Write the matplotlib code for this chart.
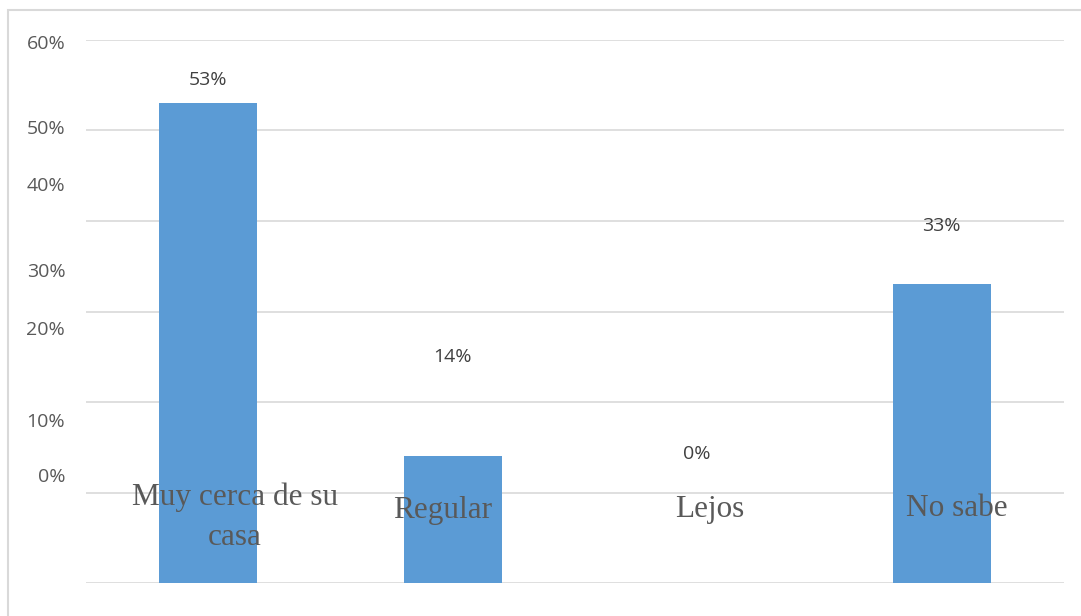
import matplotlib.pyplot as plt
from matplotlib.patches import Rectangle

categories = ["Muy cerca de su\ncasa", "Regular", "Lejos", "No sabe"]
values = [53, 14, 0, 33]
value_labels = ["53%", "14%", "0%", "33%"]
tick_labels = ["60%", "50%", "40%", "30%", "20%", "10%", "0%"]

# where the original chart happened to place its (misaligned) labels, in data units
tick_label_y = [59.6, 50.2, 43.9, 34.4, 28.0, 17.8, 11.7]
value_label_y = [55.6, 25.0, 14.2, 39.4]
cat_label_y = [7.3, 8.0, 8.1, 8.2]
cat_label_dx = [0.11, -0.04, 0.05, 0.06]

fig = plt.figure(figsize=(10.81, 6.16), dpi=100)
ax = fig.add_axes([86 / 1081, 1 - 583 / 616, (1064 - 86) / 1081, (583 - 40) / 616])

x = list(range(len(categories)))
ax.bar(x, values, width=0.4, color="#5b9bd5", zorder=2)

ax.set_xlim(-0.5, 3.5)
ax.set_ylim(0, 60)
ax.set_yticks(range(0, 61, 10))
ax.grid(axis="y", color="#d9d9d9", lw=1.2, zorder=0)
ax.tick_params(left=False, bottom=False, labelleft=False, labelbottom=False)
for s in ax.spines.values():
    s.set_visible(False)

for lbl, yy in zip(tick_labels, tick_label_y):
    ax.text(-0.585, yy, lbl, ha="right", va="center", fontsize=14,
            color="#595959", family="Open Sans")

for i, (lbl, yy) in enumerate(zip(value_labels, value_label_y)):
    ax.text(i, yy, lbl, ha="center", va="center", fontsize=14,
            color="#404040", family="Open Sans")

for i, (lbl, yy) in enumerate(zip(categories, cat_label_y)):
    ax.text(i + cat_label_dx[i], yy, lbl, ha="center", va="center", fontsize=22.5,
            color="#595959", family="Liberation Serif", linespacing=1.5)

fig.add_artist(Rectangle((8 / 1081, -0.1), 1.2, 1.1 - 10 / 616, transform=fig.transFigure,
                         fill=False, edgecolor="#d9d9d9", lw=1.5))

fig.savefig("out.png", dpi=100)
